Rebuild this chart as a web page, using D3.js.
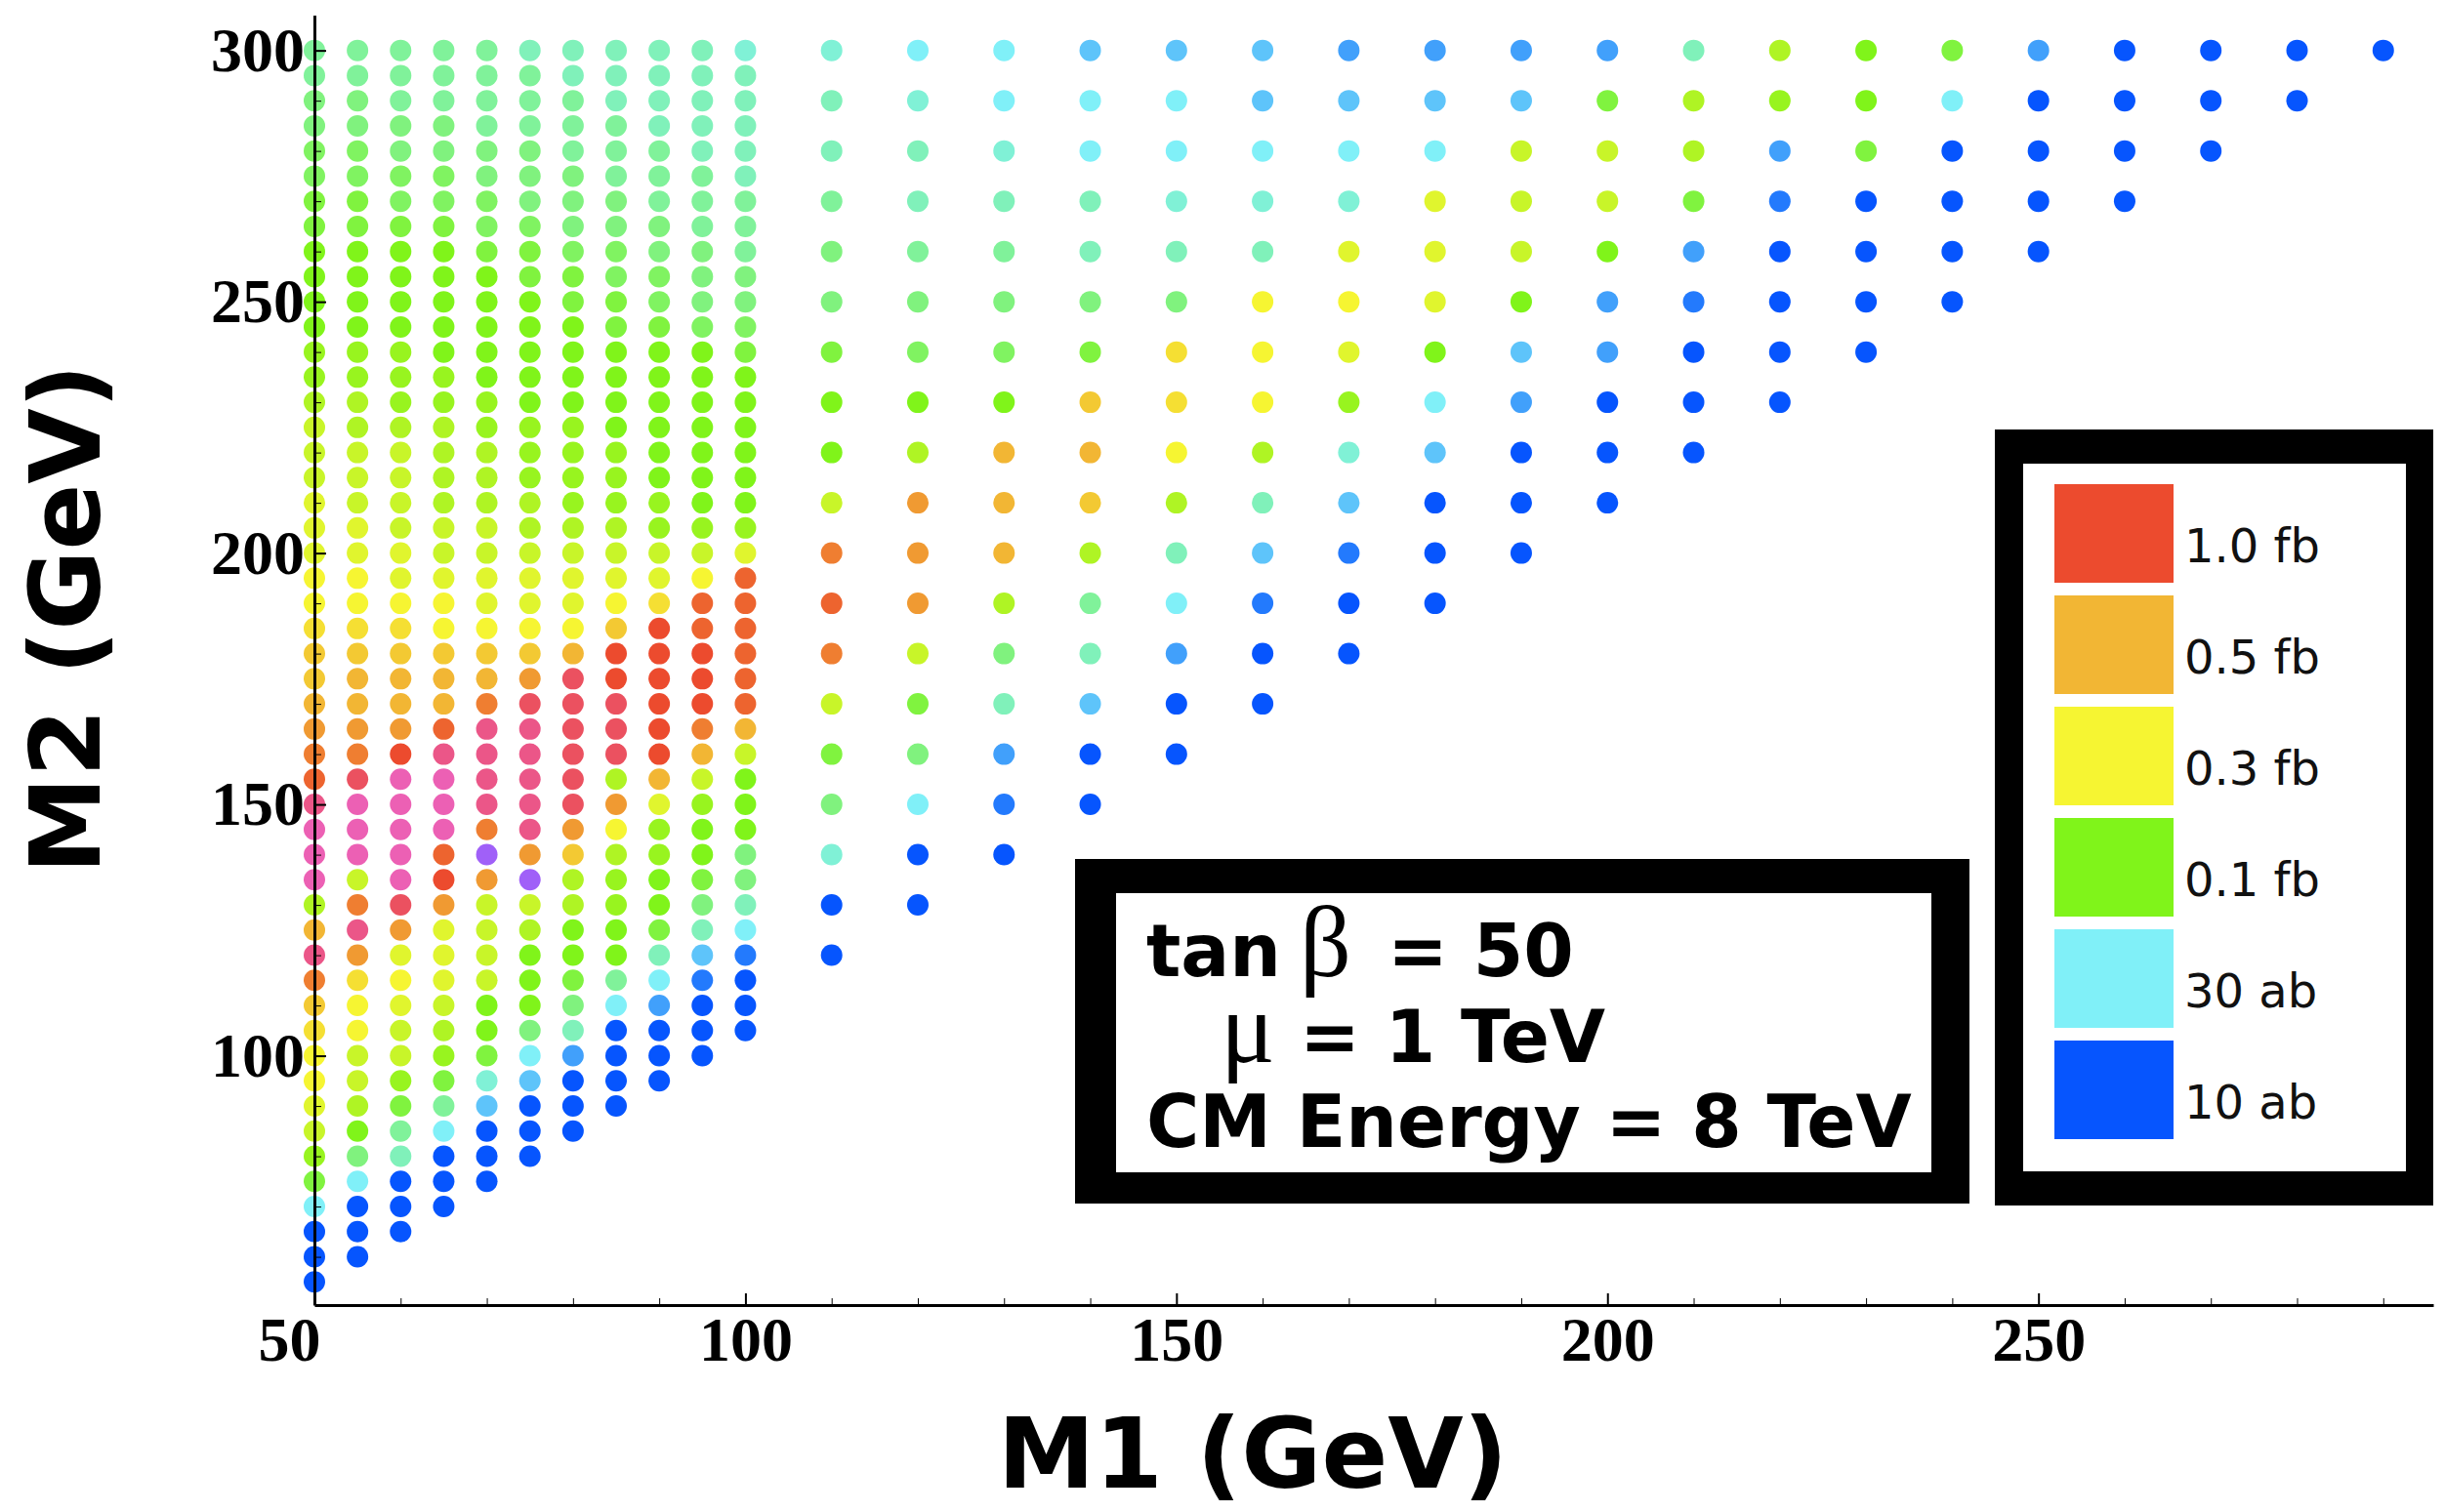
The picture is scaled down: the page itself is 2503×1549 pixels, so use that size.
<!DOCTYPE html>
<html>
<head>
<meta charset="utf-8">
<script src="https://cdn.jsdelivr.net/npm/d3@7/dist/d3.min.js"></script>
<style>
  body { margin: 0; background: #fff; }
</style>
</head>
<body>
<div id="chart"></div>
<script>
var svgWidth = 2503;
var svgHeight = 1549;

// cross-section levels (fb), one letter per level
var levelCodes = "ABCDEFGHIJKLMNOPQRSTUVWXYZab";
var levelXsec = [0.010, 0.013, 0.017, 0.022, 0.030, 0.036, 0.042, 0.050, 0.058, 0.068,
                 0.082, 0.100, 0.125, 0.155, 0.195, 0.245, 0.300, 0.36, 0.43, 0.50,
                 0.60, 0.72, 0.85, 1.0, 1.3, 1.6, 2.2, 3.0];

// fine scan: M1 every 5 GeV, each string runs from M2 = 300 down in 5 GeV steps
var m1Fine = [50, 55, 60, 65, 70, 75, 80, 85, 90, 95, 100];
var xsecFine = [
  "HHIIJJKKLLLLMMNOOOPPPQQRSSTUVWZaaaNTZVSRQQPOMKEAAA",
  "HHIIJJKKLLLLMMNNOOOPPQQRSTTUVYaaaOVZURQQOONLIEAAA",
  "HHHIIJJKLLLLMMMNOOOOPPQRSTTUXaaaaaYUPQPOOMKHGAAA",
  "HHHIIJJKLLLLLMMNNNNOOPQQSTTWZaaaWXUPPPONMKHEAAA",
  "HHHHIIJJKLLLLLMMNNNOOPPQSTVZZZZVbUOOOOLLKFDAAA",
  "GHHHIIIJKKLLLLLMMMNNOPPQSUYZZZZZUbONLLLIEDAAA",
  "GGHHHIIIJKKLLLLMMMMNOPPQTYYYYYYUSNNLLKIGCAAA",
  "GGGHHHIIJJKKLLLLMMMNOPQSXXYYYNUQNMMLLHEAAAA",
  "GGGGHHHIIJJKLLLLLLMMOPRXXXXXXTPMMLLKGECAAA",
  "GGGGGHHHIIIJLLLLLLLMOQWWXXXVTOMLLKIGDBAAA",
  "FGGGGGHHHIIJKLLLLLLMPWWWWWWTOLLLIIGEBAAA"
];

// coarse scan: M1 every 10 GeV, M2 from 300 down in 10 GeV steps
var m1Coarse = [110, 120, 130, 140, 150, 160, 170, 180, 190, 200, 210, 220, 230, 240, 250, 260, 270, 280, 290];
var xsecCoarse = [
  "FGGHIIKLLOVWVOKIFAA",
  "EFGGHIJLNUUUOKIEAA",
  "EEFGHIJLTTTNIGCBA",
  "DEEGGIKSTSNHGDAA",
  "DEEFGIRRQNGECAA",
  "DDEFGQQQNGDBAA",
  "CDEFPQPMFDBAA",
  "CDEPPPLEDAAA",
  "CDOOOLDCAAA",
  "CKOOLCCAAA",
  "GNNKCBAAA",
  "NMCBAAAA",
  "LLKAAAA",
  "KEAAAA",
  "CAAAA",
  "AAAA",
  "AAA",
  "AA",
  "A"
];

var legendValues = [1.0, 0.5, 0.3, 0.1, 0.03, 0.01];
var legendLabels = ["1.0 fb", "0.5 fb", "0.3 fb", "0.1 fb", "30 ab", "10 ab"];

var xMajor = [50, 100, 150, 200, 250];
var yMajor = [100, 150, 200, 250, 300];

function expand(m1s, cols, step) {
  var pts = [];
  m1s.forEach(function(m1, i) {
    cols[i].split("").forEach(function(c, j) {
      pts.push({ m1: m1, m2: 300 - j * step, xsec: levelXsec[levelCodes.indexOf(c)] });
    });
  });
  return pts;
}
var points = expand(m1Fine, xsecFine, 5).concat(expand(m1Coarse, xsecCoarse, 10));

var svg = d3.select("#chart")
  .append("svg")
  .attr("width", svgWidth)
  .attr("height", svgHeight);

var xScale = d3.scaleLinear().domain([50, 295.8]).range([322, 2492]);
var yScale = d3.scaleLinear().domain([50.4, 307]).range([1337, 15.6]);

var colorScale = d3.scaleLog()
  .domain([0.01, 0.03, 0.1, 0.3, 0.5, 1.0, 1.6, 2.2, 3.0])
  .range(["#0655fe", "#80f0f8", "#80f41a", "#f6f532", "#f2b634", "#ec4b2e", "#eb5688", "#ec60b4", "#a060f8"])
  .interpolate(d3.interpolateRgb);

// dots
svg.append("g")
  .selectAll("circle")
  .data(points)
  .enter()
  .append("circle")
  .attr("cx", d => xScale(d.m1))
  .attr("cy", d => yScale(d.m2))
  .attr("r", 11)
  .attr("fill", d => colorScale(d.xsec));

// axes, ticks pointing inward
var xMinor = d3.range(60, 295, 10).filter(v => xMajor.indexOf(v) < 0);
var yMinor = d3.range(60, 305, 10).filter(v => yMajor.indexOf(v) < 0);

svg.append("g")
  .attr("transform", `translate(0, ${yScale(50.4)})`)
  .call(d3.axisBottom(xScale).tickValues(xMinor).tickSize(-7).tickSizeOuter(0).tickFormat(""))
  .call(g => g.select(".domain").attr("stroke-width", 3));

var xAxis = svg.append("g")
  .attr("transform", `translate(0, ${yScale(50.4)})`)
  .call(d3.axisBottom(xScale).tickValues(xMajor).tickSize(-12).tickSizeOuter(0).tickPadding(12))
  .attr("font-family", "'Liberation Serif', serif")
  .attr("font-weight", "bold")
  .attr("font-size", 64);
xAxis.select(".domain").remove();
xAxis.selectAll(".tick line").attr("stroke-width", 2);
xAxis.selectAll(".tick text").filter(d => d === 50)
  .attr("text-anchor", "end")
  .attr("x", 6);

svg.append("g")
  .attr("transform", `translate(${xScale(50)}, 0)`)
  .call(d3.axisLeft(yScale).tickValues(yMinor).tickSize(-7).tickSizeOuter(0).tickFormat(""))
  .call(g => g.select(".domain").attr("stroke-width", 3));

var yAxis = svg.append("g")
  .attr("transform", `translate(${xScale(50)}, 0)`)
  .call(d3.axisLeft(yScale).tickValues(yMajor).tickSize(-12).tickSizeOuter(0).tickPadding(10))
  .attr("font-family", "'Liberation Serif', serif")
  .attr("font-weight", "bold")
  .attr("font-size", 64);
yAxis.select(".domain").remove();
yAxis.selectAll(".tick line").attr("stroke-width", 2);

// axis titles
svg.append("text")
  .attr("x", 1283)
  .attr("y", 1524)
  .attr("text-anchor", "middle")
  .style("font-family", "'DejaVu Sans', sans-serif")
  .style("font-weight", "bold")
  .style("font-size", "100px")
  .text("M1 (GeV)");

svg.append("text")
  .attr("transform", "translate(102, 634) rotate(-90)")
  .attr("text-anchor", "middle")
  .style("font-family", "'DejaVu Sans', sans-serif")
  .style("font-weight", "bold")
  .style("font-size", "100px")
  .text("M2 (GeV)");

// parameter box
svg.append("rect").attr("x", 1101).attr("y", 880).attr("width", 916).attr("height", 353).attr("fill", "#000");
svg.append("rect").attr("x", 1143).attr("y", 915).attr("width", 835).attr("height", 286).attr("fill", "#fff");

var boxText = svg.append("g")
  .style("font-family", "'DejaVu Sans', sans-serif")
  .style("font-weight", "bold")
  .style("font-size", "74px");

var line1 = boxText.append("text").attr("y", 1000);
line1.append("tspan").attr("x", 1174).text("tan");
line1.append("tspan").attr("x", 1331)
  .style("font-family", "'Liberation Serif', serif").style("font-weight", "normal").style("font-size", "104px")
  .text("β");
line1.append("tspan").attr("x", 1421).text("= 50");

var line2 = boxText.append("text").attr("y", 1088);
line2.append("tspan").attr("x", 1250)
  .style("font-family", "'Liberation Serif', serif").style("font-weight", "normal").style("font-size", "104px")
  .text("μ");
line2.append("tspan").attr("x", 1331).text("= 1 TeV");

boxText.append("text").attr("x", 1174).attr("y", 1175).text("CM Energy = 8 TeV");

// legend
svg.append("rect").attr("x", 2043).attr("y", 440).attr("width", 449).attr("height", 795).attr("fill", "#000");
svg.append("rect").attr("x", 2072).attr("y", 475).attr("width", 392).attr("height", 725).attr("fill", "#fff");

var legend = svg.append("g")
  .selectAll("g")
  .data(legendValues)
  .enter()
  .append("g")
  .attr("transform", (d, i) => `translate(0, ${496 + i * 114})`);

legend.append("rect")
  .attr("x", 2104)
  .attr("width", 122)
  .attr("height", 101)
  .attr("fill", d => colorScale(d));

legend.append("text")
  .attr("x", 2237)
  .attr("y", 80)
  .style("font-family", "'DejaVu Sans', sans-serif")
  .style("font-size", "48px")
  .style("fill", "#111")
  .text((d, i) => legendLabels[i]);
</script>
</body>
</html>
